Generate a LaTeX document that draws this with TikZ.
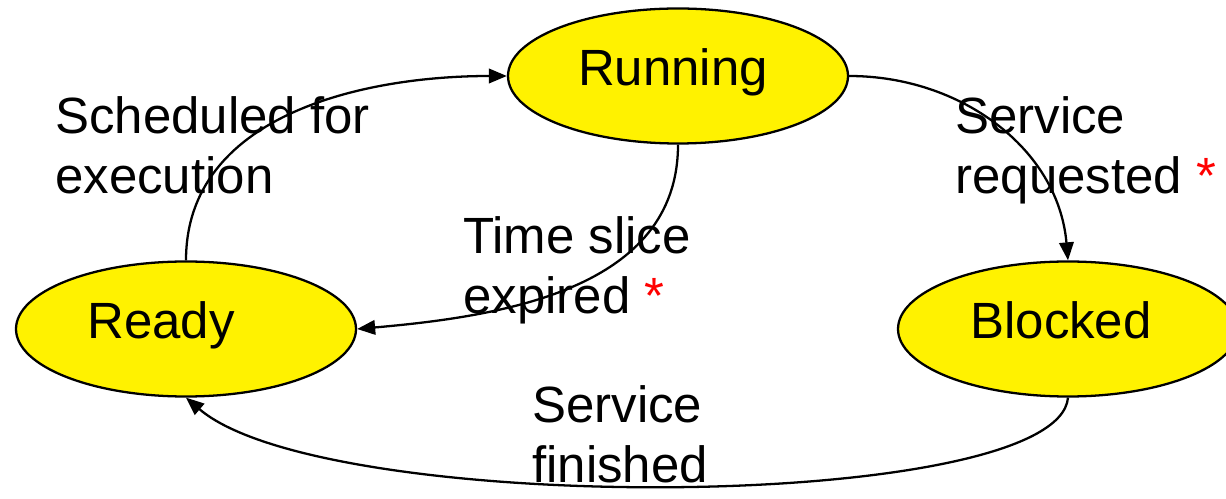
\documentclass[tikz,border=0pt]{standalone}
\usepackage{fontspec}
\setmainfont{Liberation Sans}
\usetikzlibrary{arrows.meta,shapes.geometric}

\begin{document}
\begin{tikzpicture}[
	font=\fontsize{29}{34}\selectfont,
	state/.style={ellipse,draw,fill=yellow,line width=1.3pt,minimum width=6.8cm,minimum height=2.7cm,inner sep=0pt},
	statename/.style={text height=0.72em,text depth=0.22em,inner sep=0pt,yshift=-0.1cm},
	trans/.style={-{Triangle[length=3.6mm,width=2.9mm]},line width=1.3pt},
	lbl/.style={anchor=north west,align=left,inner sep=0pt}
]
\useasboundingbox (0,0) rectangle (24.52,9.96);

% STATES
\node[state,label={[statename,xshift=-0.1cm]center:Running}] (running) at (13.56,8.44) {};
\node[state,label={[statename,xshift=-0.5cm]center:Ready}] (ready) at (3.72,3.38) {};
\node[state,label={[statename,xshift=-0.14cm]center:Blocked}] (blocked) at (21.36,3.38) {};

% TRANSITIONS
\draw[trans] (ready.north) to[out=90,in=180] (running.west);
\draw[trans] (running.east) to[out=0,in=95] (blocked.north);
\draw[trans] (running.south) to[out=-90,in=5] (ready.east);
\draw[trans] (blocked.south) .. controls +(-0.2,-2.3) and +(2.8,-2.4) .. (ready.south);

% LABELS
\node[lbl] (sched) at (1.10,8.04) {Scheduled for\\execution};
\node[lbl] (slice) at (9.26,5.64) {Time slice\\expired {\color{red}*}};
\node[lbl] (servreq) at (19.10,8.04) {Service\\requested {\color{red}*}};
\node[lbl] (servfin) at (10.64,2.26) {Service\\finished};

\end{tikzpicture}
\end{document}
